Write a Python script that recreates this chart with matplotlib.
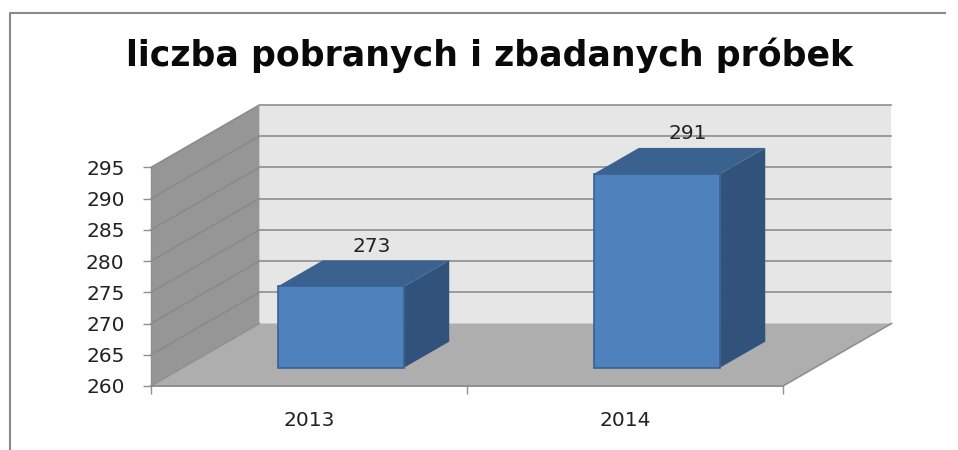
import matplotlib
matplotlib.use("Agg")
import matplotlib.pyplot as plt
from matplotlib.patches import Polygon

title = "liczba pobranych i zbadanych próbek"
years = ["2013", "2014"]
samples = [273, 291]
y_ticks = [260, 265, 270, 275, 280, 285, 290, 295]

W, H = 958, 450
# front plane of the fake 3d box, in pixels
LEFT, RIGHT, TOP, BOTTOM = 151, 783, 167.3, 386
YMIN, YMAX = y_ticks[0], y_ticks[-1]
# a full step back in depth moves this much (x in categories, y in values)
DEPTH_X = 108.5 / ((RIGHT - LEFT) / len(years))
DEPTH_Y = 10.0
BAR_W = 0.40
BAR_D0, BAR_D1 = 0.295, 0.71
TXT = "#222222"
LBL = 14.5


def pt(x, v, d=0):
    return (x + d * DEPTH_X, v + d * DEPTH_Y)


def face(ax, pts, color, edge=None, lw=0, z=1):
    ax.add_patch(Polygon(pts, closed=True, facecolor=color, edgecolor=edge or color,
                         linewidth=lw, clip_on=False, zorder=z))


fig = plt.figure(figsize=(W / 100, H / 100), dpi=100)
ax = fig.add_axes([LEFT / W, 1 - BOTTOM / H, (RIGHT - LEFT) / W, (BOTTOM - TOP) / H])
n = len(years)
ax.set_xlim(0, n)
ax.set_ylim(YMIN, YMAX)
ax.patch.set_visible(False)
for s in ax.spines.values():
    s.set_visible(False)

# walls and floor
face(ax, [pt(0, YMIN, 1), pt(n, YMIN, 1), pt(n, YMAX, 1), pt(0, YMAX, 1)], "#e6e6e6")
face(ax, [pt(0, YMIN), pt(0, YMIN, 1), pt(0, YMAX, 1), pt(0, YMAX)], "#969696")
face(ax, [pt(0, YMIN), pt(n, YMIN), pt(n, YMIN, 1), pt(0, YMIN, 1)], "#aeaeae")

grid = "#959595"
for v in y_ticks[1:]:
    ax.plot(*zip(pt(0, v), pt(0, v, 1)), color="#888888", lw=1, zorder=2, clip_on=False)
    ax.plot(*zip(pt(0, v, 1), pt(n, v, 1)), color=grid, lw=1.3, zorder=2, clip_on=False)
ax.plot(*zip(pt(0, YMIN), pt(0, YMIN, 1)), color="#8f8f8f", lw=1, zorder=2, clip_on=False)
ax.plot(*zip(pt(n, YMIN), pt(n, YMIN, 1)), color="#8f8f8f", lw=1.2, zorder=2, clip_on=False)
ax.plot(*zip(pt(0, YMIN), pt(n, YMIN)), color="#8f8f8f", lw=1.4, zorder=3, clip_on=False)
ax.plot(*zip(pt(0, YMIN), pt(0, YMAX)), color="#8f8f8f", lw=1, zorder=2, clip_on=False)

# bars
for i, (year, val) in enumerate(zip(years, samples)):
    x0 = i + 0.5 - BAR_W / 2
    x1 = i + 0.5 + BAR_W / 2
    face(ax, [pt(x1, YMIN, BAR_D0), pt(x1, YMIN, BAR_D1), pt(x1, val, BAR_D1), pt(x1, val, BAR_D0)],
         "#30527b", z=4)
    face(ax, [pt(x0, val, BAR_D0), pt(x1, val, BAR_D0), pt(x1, val, BAR_D1), pt(x0, val, BAR_D1)],
         "#3b618f", z=4)
    face(ax, [pt(x0, YMIN, BAR_D0), pt(x1, YMIN, BAR_D0), pt(x1, val, BAR_D0), pt(x0, val, BAR_D0)],
         "#4f81bd", edge="#386192", lw=1.2, z=5)
    lx, ly = pt(i + 0.5, val, BAR_D1)
    ax.annotate(str(val), (lx, ly), xytext=(-10.5, 3.5), textcoords="offset points", ha="center",
                va="bottom", fontsize=LBL, color=TXT, zorder=6, annotation_clip=False)

# ticks
ax.set_xticks(range(n + 1))
ax.set_xticklabels([])
ax.set_yticks(y_ticks)
ax.tick_params(axis="y", length=5.5, width=1, color="#8f8f8f", labelsize=LBL,
               labelcolor=TXT, pad=13.5)
ax.tick_params(axis="x", length=5.5, width=1, color="#8f8f8f")
for i, year in enumerate(years):
    ax.annotate(year, (i + 0.5, YMIN), xytext=(0, -18), textcoords="offset points", ha="center",
                va="top", fontsize=LBL, color=TXT, annotation_clip=False)

# chart border (cropped at the bottom of the screenshot)
fig.add_artist(plt.Line2D([9.5 / W, 9.5 / W, 945 / W], [0, 1 - 13 / H, 1 - 13 / H],
                          color="#8a8a8a", lw=1.5))
fig.text(490 / W, 1 - 55 / H, title, ha="center", va="center", fontsize=25,
         fontweight="bold", family="DejaVu Sans", color="#0a0a0a")

fig.savefig("out.png", dpi=100)
